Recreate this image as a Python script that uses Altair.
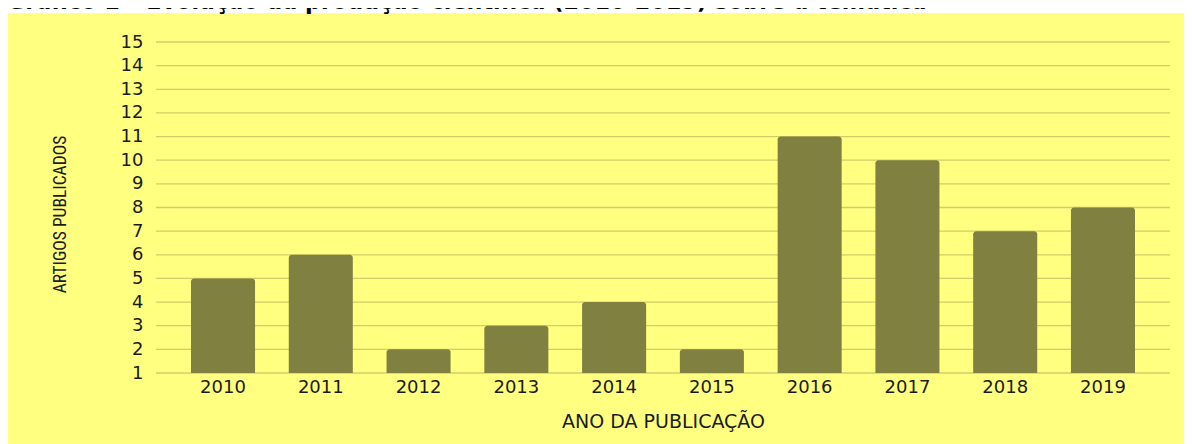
import altair as alt
import pandas as pd

years = ["2010", "2011", "2012", "2013", "2014", "2015", "2016", "2017", "2018", "2019"]
articles = [5, 6, 2, 3, 4, 2, 11, 10, 7, 8]
y_ticks = list(range(1, 16))

title_text = "Gráfico 1 – Evolução da produção científica (2010-2019) sobre a temática"
x_title = "ANO DA PUBLICAÇÃO"
y_title = "ARTIGOS PUBLICADOS"

W, H = 1014, 331
PAD = {"left": 148, "top": 34, "right": 14, "bottom": 71}

df = pd.DataFrame({"ano": years, "artigos": articles})
grid_df = pd.DataFrame({"v": y_ticks})
title_df = pd.DataFrame({"t": [title_text]})

yscale = alt.Scale(domain=[1, 15], zero=False, nice=False)
xscale = alt.Scale(paddingInner=0.345, paddingOuter=0.358)

y_axis = alt.Axis(
    title=y_title,
    values=y_ticks,
    labelFont="DejaVu Sans",
    labelFontSize=18,
    labelColor="#1a1a1a",
    labelPadding=13,
    ticks=False,
    tickSize=0,
    domain=False,
    grid=False,
    zindex=1,
    titleFont="Liberation Sans Narrow, Roboto Condensed, DejaVu Sans Condensed, Liberation Sans",
    titleFontSize=17.5,
    titleFontWeight="normal",
    titleColor="#1a1a1a",
    titleAngle=-90,
    titleX=-91,
    titleY=172,
    titleBaseline="alphabetic",
    titleAlign="center",
)

x_axis = alt.Axis(
    title=x_title,
    labelAngle=0,
    labelFont="DejaVu Sans",
    labelFontSize=18,
    labelColor="#1a1a1a",
    labelPadding=5,
    ticks=False,
    tickSize=0,
    domain=False,
    grid=False,
    zindex=1,
    titleFont="DejaVu Sans",
    titleFontSize=19,
    titleFontWeight="normal",
    titleColor="#1a1a1a",
    titleX=W / 2,
    titleY=54,
    titleBaseline="alphabetic",
    titleAlign="center",
)

bg = alt.Chart(pd.DataFrame({"a": [0]})).mark_rect(color="#ffff80").encode(
    x=alt.value(-PAD["left"] - 1),
    x2=alt.value(W + PAD["right"] + 8),
    y=alt.value(-29),
    y2=alt.value(H + PAD["bottom"] + 8),
)

grid = alt.Chart(grid_df).mark_rule(color="#d4cc6a", strokeWidth=1.3).encode(
    y=alt.Y("v:Q", scale=yscale, axis=y_axis),
)

bars = alt.Chart(df).mark_bar(
    color="#808040", cornerRadiusTopLeft=3, cornerRadiusTopRight=3
).encode(
    x=alt.X("ano:N", sort=years, scale=xscale, axis=x_axis),
    y=alt.Y("artigos:Q", scale=yscale, axis=y_axis),
    y2=alt.datum(1),
)

title_mark = alt.Chart(title_df).mark_text(
    font="DejaVu Sans",
    fontSize=22.3,
    fontWeight="bold",
    color="#000000",
    align="left",
    baseline="alphabetic",
).encode(
    text="t:N",
    x=alt.value(-PAD["left"] - 1),
    y=alt.value(-33),
)

chart = (
    alt.layer(bg, grid, bars, title_mark)
    .properties(
        width=W,
        height=H,
        padding=PAD,
        autosize=alt.AutoSizeParams(type="none"),
        background="#ffffff",
    )
    .configure_view(stroke=None)
)

chart.save("out.html", embed_options={"renderer": "svg", "actions": False})
